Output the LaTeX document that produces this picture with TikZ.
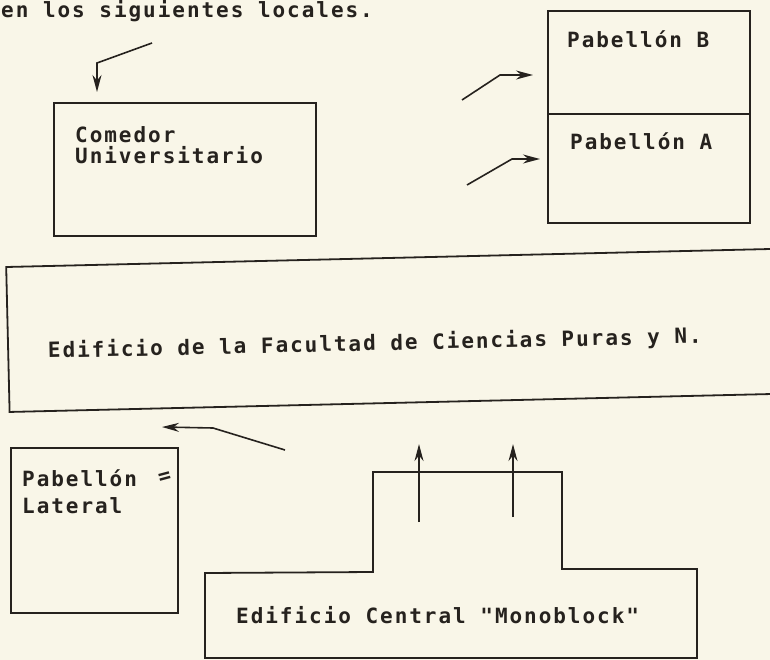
\documentclass[tikz,border=0pt]{standalone}
\usepackage{fontspec}
\usepackage{tikz}
\usetikzlibrary{arrows.meta}
\newfontfamily\typew[LetterSpace=9.3]{DejaVu Sans Mono}
\definecolor{paper}{RGB}{249,246,232}
\definecolor{ink}{RGB}{38,34,30}

\begin{document}
\begin{tikzpicture}[x=1pt,y=1pt,yscale=-1,
    wall/.style={draw=ink, line width=1.8pt},
    box/.style={wall, rectangle, inner sep=0pt, anchor=north west},
    lbl/.style={inner sep=0pt, text=ink, align=left,
      font=\typew\bfseries\fontsize{21}{25}\selectfont},
    arr/.style={draw=ink, line width=1.6pt, -{Stealth[length=17pt,width=9pt]}}]
    \fill[paper] (0,0) rectangle (770,660);
    \useasboundingbox (0,0) rectangle (770,660);

    % Text Node
    \node[lbl, anchor=base west] (intro) at (1,18) {en los siguientes locales.};

    %Shape: Rectangle
    \node[box, minimum width=262pt, minimum height=133pt] (comedor) at (53,102) {};
    %Shape: Rectangle
    \node[box, minimum width=202pt, minimum height=103pt] (pabB) at (547,10) {};
    %Shape: Rectangle
    \node[box, minimum width=202pt, minimum height=109pt] (pabA) at (547,113) {};
    %Shape: Rectangle
    \node[box, anchor=west, rotate=1.35, minimum width=830pt, minimum height=145pt] (facultad) at (7,339.5) {};
    %Shape: Rectangle
    \node[box, minimum width=167pt, minimum height=165pt] (lateral) at (10,447) {};
    %Shape: Polygon
    \draw[wall] (205,658) -- (205,573) -- (373,572) -- (373,472) -- (562,472) -- (562,569) -- (697,569) -- (697,658) -- cycle;

    % Text Node
    \node[lbl, anchor=north west] (comedortxt) at (75,126) {Comedor\\[-4pt]Universitario};
    % Text Node
    \node[lbl, anchor=base west] (pabBtxt) at (567,48) {Pabellón B};
    % Text Node
    \node[lbl, anchor=base west] (pabAtxt) at (570,150) {Pabellón A};
    % Text Node
    \node[lbl, anchor=base west, rotate=1.3] (facultadtxt) at (48,358) {Edificio de la Facultad de Ciencias Puras y N.};
    % Text Node
    \node[lbl, anchor=north west] (lateraltxt) at (22,469) {Pabellón\\[2pt]Lateral};
    % Text Node
    \node[lbl, rotate=15] (lateralmark) at (165,478) {=};
    % Text Node
    \node[lbl, anchor=base west] (monoblock) at (236,623) {Edificio Central "Monoblock"};

    %Straight Lines
    \coordinate (cA) at (152,43);
    \coordinate (cAb) at (97,63);
    \draw[arr, shorten >=10pt] (cA) -- (cAb) -- (cAb |- comedor.north);
    %Straight Lines
    \coordinate (cB) at (462,100);
    \coordinate (cBb) at (500,75);
    \draw[arr, shorten >=14pt] (cB) -- (cBb) -- (cBb -| pabB.west);
    %Straight Lines
    \coordinate (cC) at (467,185);
    \coordinate (cCb) at (512,159);
    \draw[arr, shorten >=7pt] (cC) -- (cCb) -- (cCb -| pabA.west);
    %Straight Lines
    \coordinate (cL) at (285,450);
    \coordinate (cLb) at (213,428);
    \coordinate (cLe) at (162,427);
    \draw[arr] (cL) -- (cLb) -- (cLe);
    %Straight Lines
    \coordinate (m1) at (419,522);
    \coordinate (m2) at (513,517);
    \draw[arr, shorten >=41pt] (m1) -- (m1 |- facultad.south);
    \draw[arr, shorten >=41pt] (m2) -- (m2 |- facultad.south);
\end{tikzpicture}
\end{document}
